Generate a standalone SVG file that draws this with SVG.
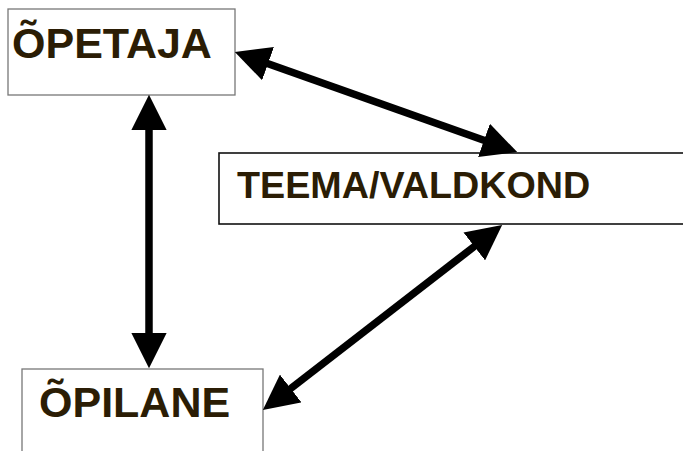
<svg xmlns="http://www.w3.org/2000/svg" width="683" height="451" viewBox="0 0 683 451">
<style>
.box{fill:#fff;stroke:#777;stroke-width:1.3}
.boxd{fill:#fff;stroke:#111;stroke-width:1.6}
.lbl{font-family:"Liberation Sans",Arial,sans-serif;font-weight:bold;fill:#2b1d05}
.conn{stroke:#000;stroke-width:7.5;fill:none;marker-start:url(#ah);marker-end:url(#ah)}
</style>
<defs>
<marker id="ah" viewBox="0 0 5 5" refX="0.2" refY="2.5" markerWidth="4.7" markerHeight="4.7" markerUnits="strokeWidth" orient="auto-start-reverse">
<path d="M0,0 L5,2.5 L0,5 z" fill="#000"/>
</marker>
</defs>
<rect width="683" height="451" fill="#fff"/>
<g id="opetaja">
<rect class="box" x="8" y="9" width="227" height="86"/>
<text class="lbl" x="12" y="58" font-size="43">ÕPETAJA</text>
</g>
<g id="teema">
<rect class="boxd" x="219" y="153" width="480" height="71"/>
<text class="lbl" x="237" y="198" font-size="37.7">TEEMA/VALDKOND</text>
</g>
<g id="opilane">
<rect class="box" x="22" y="369" width="241" height="100"/>
<text class="lbl" x="39" y="417" font-size="43">ÕPILANE</text>
</g>
<g id="connectors">
<line class="conn" x1="266.7" y1="63.2" x2="485.3" y2="140.8"/>
<line class="conn" x1="149" y1="128.6" x2="149" y2="334.4"/>
<line class="conn" x1="289.6" y1="389.4" x2="475.4" y2="245.6"/>
</g>
</svg>
